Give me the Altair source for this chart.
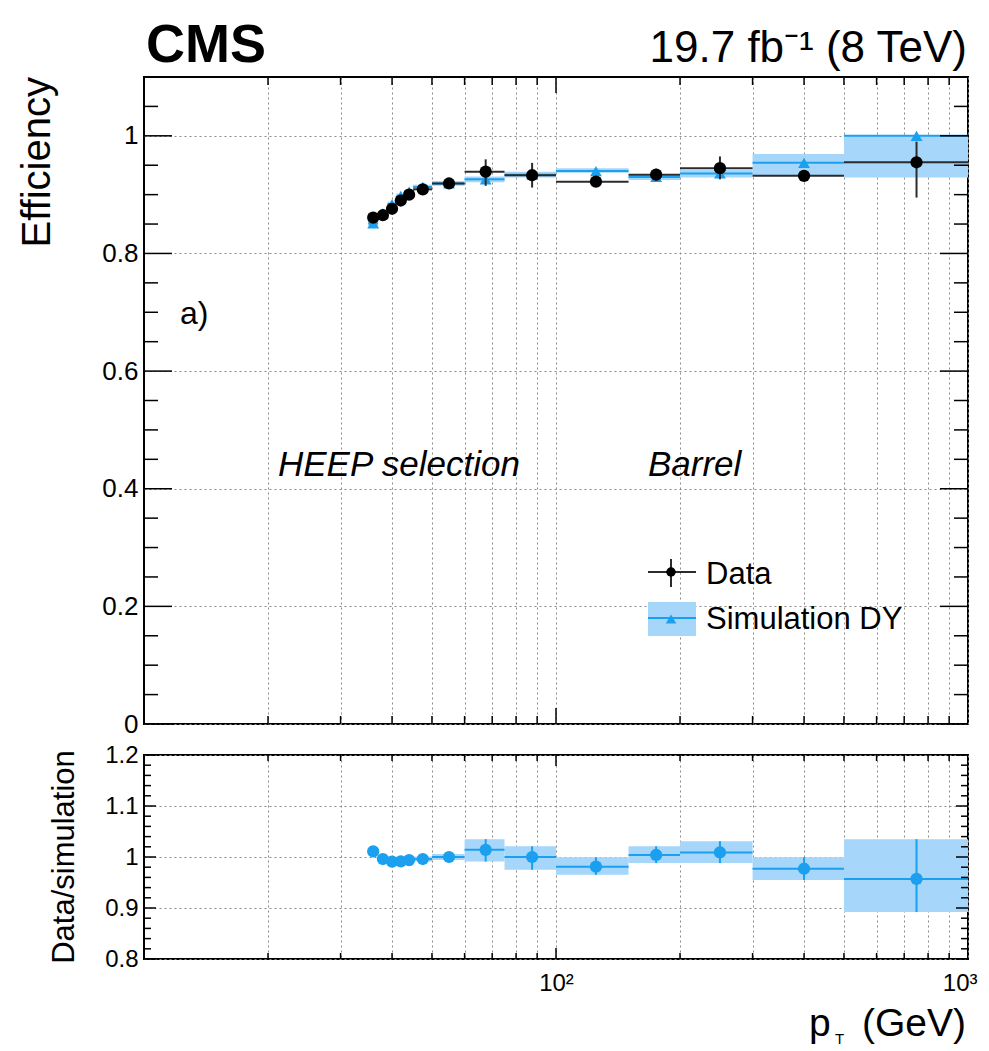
import altair as alt
import pandas as pd

# ---------------- data ----------------
bin_lo = [35, 37, 39, 41, 43, 45, 50, 60, 75, 100, 150, 200, 300, 500]
bin_hi = [37, 39, 41, 43, 45, 50, 60, 75, 100, 150, 200, 300, 500, 1000]

eff_data = [0.861, 0.865, 0.876, 0.890, 0.900, 0.909, 0.919, 0.939, 0.933, 0.922, 0.934, 0.945, 0.932, 0.955]
eff_data_lo = [0.856, 0.860, 0.871, 0.885, 0.895, 0.904, 0.914, 0.915, 0.912, 0.914, 0.924, 0.926, 0.924, 0.895]
eff_data_hi = [0.866, 0.870, 0.881, 0.895, 0.905, 0.914, 0.924, 0.960, 0.954, 0.930, 0.944, 0.965, 0.940, 0.990]

eff_sim = [0.851, 0.868, 0.884, 0.898, 0.905, 0.913, 0.919, 0.926, 0.934, 0.940, 0.930, 0.936, 0.954, 1.000]
eff_sim_lo = [0.847, 0.864, 0.880, 0.894, 0.901, 0.909, 0.915, 0.921, 0.929, 0.937, 0.925, 0.929, 0.932, 0.929]
eff_sim_hi = [0.855, 0.872, 0.888, 0.902, 0.909, 0.917, 0.923, 0.931, 0.939, 0.945, 0.935, 0.942, 0.969, 1.000]

ratio = [1.011, 0.996, 0.991, 0.9915, 0.994, 0.996, 1.000, 1.014, 1.000, 0.981, 1.004, 1.009, 0.977, 0.957]
ratio_lo = [1.006, 0.991, 0.986, 0.987, 0.989, 0.991, 0.994, 0.991, 0.975, 0.965, 0.988, 0.988, 0.955, 0.892]
ratio_hi = [1.016, 1.001, 0.996, 0.996, 0.999, 1.001, 1.006, 1.035, 1.021, 0.9995, 1.021, 1.031, 0.9995, 1.035]

x_grid = [20, 30, 40, 50, 60, 70, 80, 90, 100, 200, 300, 400, 500, 600, 700, 800, 900, 1000]
x_minor_ticks = [20, 30, 40, 50, 60, 70, 80, 90, 200, 300, 400, 500, 600, 700, 800, 900]
x_major_ticks = [100]
top_y_labels = [0, 0.2, 0.4, 0.6, 0.8, 1.0]
top_y_minor = [0.05, 0.1, 0.15, 0.25, 0.3, 0.35, 0.45, 0.5, 0.55, 0.65, 0.7, 0.75,
               0.85, 0.9, 0.95, 1.05]
bot_y_labels = [0.8, 0.9, 1.0, 1.1, 1.2]
bot_y_minor = [0.82, 0.84, 0.86, 0.88, 0.92, 0.94, 0.96, 0.98, 1.02, 1.04, 1.06, 1.08,
               1.12, 1.14, 1.16, 1.18]

# ---------------- styling ----------------
FONT = "Liberation Sans"
BLUE = "#1aa0ee"
LIGHT = "#a6d6fa"
DARK = "#2b2b2b"
W = 824
H_TOP = 647
H_BOT = 204

df = pd.DataFrame({
    "lo": bin_lo, "hi": bin_hi,
    "center": [(a + b) / 2 for a, b in zip(bin_lo, bin_hi)],
    "data": eff_data, "dlo": eff_data_lo, "dhi": eff_data_hi,
    "sim": eff_sim, "slo": eff_sim_lo, "shi": eff_sim_hi,
    "ratio": ratio, "rlo": ratio_lo, "rhi": ratio_hi,
})

xs = alt.Scale(type="log", domain=[10, 1000], nice=False)
ys_top = alt.Scale(domain=[0, 1.1], nice=False, zero=False)
ys_bot = alt.Scale(domain=[0.8, 1.2], nice=False, zero=False)

grid_kw = dict(grid=True, gridColor="#8a8a8a", gridDash=[2, 3], gridWidth=1,
               ticks=False, domain=False, title=None)

xax_top = alt.Axis(values=x_grid, labels=False, minExtent=0, maxExtent=0, **grid_kw)
xax_bot = alt.Axis(values=x_grid,
                   labelExpr="datum.value == 100 ? '10²' : (datum.value == 1000 ? '10³' : '')",
                   labelFlush=True, labelFlushOffset=9, labelOverlap=False, labelFontSize=24,
                   labelPadding=12, **grid_kw)
yax_top = alt.Axis(values=top_y_labels, format="~g", labelFontSize=26, labelPadding=6,
                   **grid_kw)
yax_bot = alt.Axis(values=bot_y_labels, format="~g", labelFontSize=24, labelPadding=6,
                   **grid_kw)


def txt(s, x, y, size, align="left", angle=0, style="normal", weight="normal",
        color="black", baseline="alphabetic"):
    kw = dict(align=align, baseline=baseline, fontSize=size, font=FONT, color=color,
              fontStyle=style, fontWeight=weight)
    if angle:
        kw["angle"] = angle
    return alt.Chart(pd.DataFrame({"t": [s]})).mark_text(**kw).encode(
        x=alt.value(x), y=alt.value(y), text="t:N")


def one():
    return alt.Chart(pd.DataFrame({"k": [0]}))


def yticks(vals, length, yscale, yaxis, width):
    d = pd.DataFrame({"v": vals})
    left = alt.Chart(d).mark_rule(color="black", strokeWidth=1.5).encode(
        y=alt.Y("v:Q", scale=yscale, axis=yaxis), x=alt.value(0), x2=alt.value(length))
    right = alt.Chart(d).mark_rule(color="black", strokeWidth=1.5).encode(
        y=alt.Y("v:Q", scale=yscale, axis=yaxis), x=alt.value(width), x2=alt.value(width - length))
    return [left, right]


def xticks(vals, length, xaxis, height):
    d = pd.DataFrame({"v": vals})
    bot = alt.Chart(d).mark_rule(color="black", strokeWidth=1.5).encode(
        x=alt.X("v:Q", scale=xs, axis=xaxis), y=alt.value(height), y2=alt.value(height - length))
    top = alt.Chart(d).mark_rule(color="black", strokeWidth=1.5).encode(
        x=alt.X("v:Q", scale=xs, axis=xaxis), y=alt.value(0), y2=alt.value(length))
    return [bot, top]


# ---------------- top panel ----------------
base = alt.Chart(df)
X = lambda f: alt.X(f"{f}:Q", scale=xs, axis=xax_top)
Yt = lambda f: alt.Y(f"{f}:Q", scale=ys_top, axis=yax_top)

sim_band = base.mark_rect(color=LIGHT, opacity=1).encode(
    x=X("lo"), x2="hi", y=Yt("slo"), y2="shi")
sim_line = base.mark_rule(color=BLUE, strokeWidth=2).encode(
    x=X("lo"), x2="hi", y=Yt("sim"))
sim_pts = base.mark_point(shape="triangle-up", filled=True, size=140, color=BLUE,
                          opacity=1).encode(x=X("center"), y=Yt("sim"))
data_h = base.mark_rule(color=DARK, strokeWidth=2).encode(
    x=X("lo"), x2="hi", y=Yt("data"))
data_v = base.mark_rule(color=DARK, strokeWidth=2).encode(
    x=X("center"), y=Yt("dlo"), y2="dhi")
data_pts = base.mark_circle(size=150, color="black", opacity=1).encode(
    x=X("center"), y=Yt("data"))

legend = [
    one().mark_rect(color=LIGHT).encode(x=alt.value(504), x2=alt.value(552),
                                       y=alt.value(525), y2=alt.value(559)),
    one().mark_rule(color=BLUE, strokeWidth=2).encode(x=alt.value(504), x2=alt.value(552),
                                                     y=alt.value(541)),
    one().mark_point(shape="triangle-up", filled=True, size=110, color=BLUE, opacity=1).encode(
        x=alt.value(527), y=alt.value(542)),
    one().mark_rule(color=DARK, strokeWidth=2).encode(x=alt.value(504), x2=alt.value(552),
                                                     y=alt.value(495)),
    one().mark_rule(color=DARK, strokeWidth=2).encode(x=alt.value(527), y=alt.value(482),
                                                     y2=alt.value(510)),
    one().mark_circle(size=90, color="black", opacity=1).encode(x=alt.value(527), y=alt.value(495)),
    txt("Data", 562, 507, 31),
    txt("Simulation DY", 562, 552, 31),
]

top_texts = [
    txt("CMS", 2, -15, 54, weight="bold"),
    txt("19.7 fb⁻¹ (8 TeV)", W - 1, -15, 44, align="right"),
    txt("Efficiency", -94, 0, 40, align="right", angle=270),
    txt("a)", 36, 247, 32),
    txt("HEEP selection", 134, 399, 35, style="italic"),
    txt("Barrel", 504, 399, 35, style="italic"),
]

top = alt.layer(
    sim_band, sim_line, sim_pts, data_h, data_v, data_pts,
    *yticks(top_y_labels, 28, ys_top, yax_top, W),
    *yticks(top_y_minor, 14, ys_top, yax_top, W),
    *xticks(x_major_ticks, 16, xax_top, H_TOP),
    *xticks(x_minor_ticks, 8, xax_top, H_TOP),
    *legend, *top_texts,
).properties(width=W, height=H_TOP)

# ---------------- bottom panel ----------------
Xb = lambda f: alt.X(f"{f}:Q", scale=xs, axis=xax_bot)
Yb = lambda f: alt.Y(f"{f}:Q", scale=ys_bot, axis=yax_bot)

r_band = base.mark_rect(color=LIGHT, opacity=1).encode(
    x=Xb("lo"), x2="hi", y=Yb("rlo"), y2="rhi")
r_line = base.mark_rule(color=BLUE, strokeWidth=2).encode(
    x=Xb("lo"), x2="hi", y=Yb("ratio"))
r_err = base.mark_rule(color=BLUE, strokeWidth=2).encode(
    x=Xb("center"), y=Yb("rlo"), y2="rhi")
r_pts = base.mark_circle(size=150, color=BLUE, opacity=1).encode(
    x=Xb("center"), y=Yb("ratio"))

bot_texts = [
    txt("Data/simulation", -70, H_BOT / 2, 31, align="center", angle=270),
    txt("(GeV)", W - 2, 281, 39, align="right"),
    txt("p", 665, 281, 39),
    txt("T", 691, 289, 15),
]

bottom = alt.layer(
    r_band, r_line, r_err, r_pts,
    *yticks(bot_y_labels, 12, ys_bot, yax_bot, W),
    *yticks(bot_y_minor, 7, ys_bot, yax_bot, W),
    *xticks(x_major_ticks, 11, xax_bot, H_BOT),
    *xticks(x_minor_ticks, 6, xax_bot, H_BOT),
    *bot_texts,
).properties(width=W, height=H_BOT)

chart = alt.vconcat(top, bottom, spacing=4).properties(
    padding={"left": 9, "top": 10, "right": 0, "bottom": 0},
    background="white",
).configure_view(stroke="black", strokeWidth=2).configure_axis(
    labelFont=FONT, labelColor="black")

chart.save("out.html", embed_options={"renderer": "svg", "actions": False})
